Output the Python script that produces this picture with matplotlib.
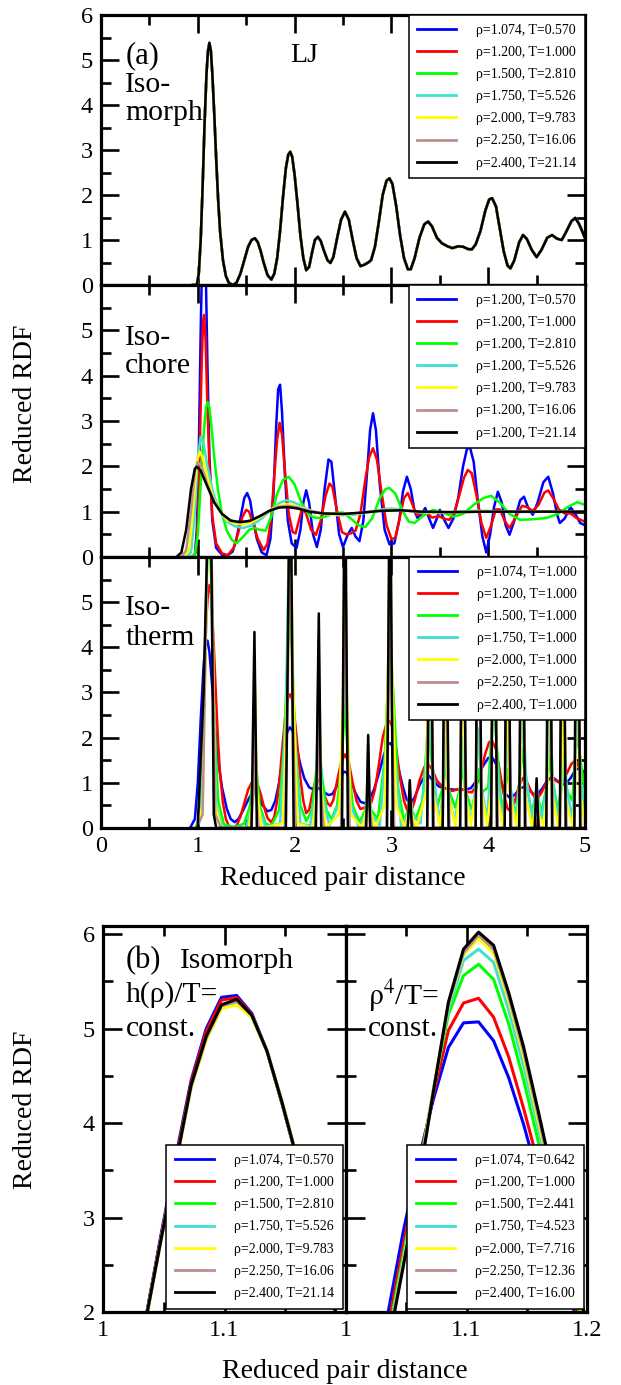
import matplotlib
matplotlib.use('Agg')
import matplotlib.pyplot as plt
from matplotlib.lines import Line2D
from matplotlib.ticker import MultipleLocator, FixedLocator, FixedFormatter

plt.rcParams['font.family'] = ['Liberation Serif', 'DejaVu Serif']
plt.rcParams['mathtext.fontset'] = 'stix'

# ---------------- data ----------------
colors = ['#0000ff', '#ff0000', '#00ff00', '#40e0d0', '#ffff00', '#bc8f8f', '#000000']

labels_isomorph = ['ρ=1.074, T=0.570', 'ρ=1.200, T=1.000', 'ρ=1.500, T=2.810',
                   'ρ=1.750, T=5.526', 'ρ=2.000, T=9.783', 'ρ=2.250, T=16.06',
                   'ρ=2.400, T=21.14']
labels_isochore = ['ρ=1.200, T=0.570', 'ρ=1.200, T=1.000', 'ρ=1.200, T=2.810',
                   'ρ=1.200, T=5.526', 'ρ=1.200, T=9.783', 'ρ=1.200, T=16.06',
                   'ρ=1.200, T=21.14']
labels_isotherm = ['ρ=1.074, T=1.000', 'ρ=1.200, T=1.000', 'ρ=1.500, T=1.000',
                   'ρ=1.750, T=1.000', 'ρ=2.000, T=1.000', 'ρ=2.250, T=1.000',
                   'ρ=2.400, T=1.000']
labels_rho4 = ['ρ=1.074, T=0.642', 'ρ=1.200, T=1.000', 'ρ=1.500, T=2.441',
               'ρ=1.750, T=4.523', 'ρ=2.000, T=7.716', 'ρ=2.250, T=12.36',
               'ρ=2.400, T=16.00']

# Isomorph (all seven state points collapse onto one curve)
r_isomorph = [0.95, 0.99, 1.01, 1.03, 1.05, 1.07, 1.09, 1.105, 1.12, 1.135, 1.15, 1.17, 1.19, 1.21,
              1.23, 1.26, 1.29, 1.32, 1.36, 1.40, 1.44, 1.48, 1.52, 1.555, 1.59, 1.62, 1.65, 1.68,
              1.72, 1.76, 1.79, 1.82, 1.85, 1.88, 1.91, 1.935, 1.955, 1.975, 2.00, 2.03, 2.06, 2.09,
              2.12, 2.15, 2.18, 2.21, 2.24, 2.27, 2.30, 2.34, 2.37, 2.40, 2.44, 2.48, 2.52, 2.56,
              2.60, 2.64, 2.68, 2.72, 2.76, 2.79, 2.83, 2.87, 2.91, 2.95, 2.98, 3.01, 3.05, 3.09,
              3.13, 3.17, 3.20, 3.24, 3.29, 3.34, 3.38, 3.42, 3.47, 3.52, 3.58, 3.63, 3.69, 3.74,
              3.79, 3.83, 3.87, 3.92, 3.97, 4.01, 4.04, 4.08, 4.12, 4.16, 4.20, 4.23, 4.27, 4.32,
              4.36, 4.40, 4.45, 4.50, 4.55, 4.61, 4.66, 4.71, 4.76, 4.81, 4.86, 4.90, 4.94, 4.97,
              5.00]
g_isomorph = [0.0, 0.0, 0.25, 1.0, 2.2, 3.6, 4.7, 5.2, 5.38, 5.2, 4.7, 3.8, 2.8, 1.9,
              1.2, 0.55, 0.2, 0.05, 0.0, 0.05, 0.25, 0.55, 0.85, 1.0, 1.04, 0.95, 0.75, 0.5,
              0.22, 0.12, 0.25, 0.6, 1.2, 1.95, 2.6, 2.9, 2.96, 2.85, 2.45, 1.8, 1.1, 0.6,
              0.33, 0.4, 0.72, 1.0, 1.07, 0.98, 0.78, 0.55, 0.49, 0.62, 1.05, 1.45, 1.63, 1.45,
              1.0, 0.6, 0.42, 0.45, 0.5, 0.55, 0.85, 1.4, 2.0, 2.32, 2.37, 2.25, 1.75, 1.1,
              0.6, 0.35, 0.35, 0.6, 1.05, 1.35, 1.41, 1.3, 1.05, 0.93, 0.86, 0.82, 0.86, 0.85,
              0.8, 0.79, 0.9, 1.2, 1.65, 1.9, 1.93, 1.75, 1.25, 0.75, 0.43, 0.37, 0.55, 0.95,
              1.11, 1.02, 0.78, 0.62, 0.78, 1.05, 1.11, 1.03, 1.0, 1.2, 1.42, 1.49, 1.35, 1.2,
              1.04]

# Isochore rho = 1.2
r_ich_blue = [0.93, 0.97, 0.99, 1.01, 1.03, 1.05, 1.065, 1.08, 1.10, 1.12, 1.15, 1.19, 1.25, 1.31,
              1.36, 1.40, 1.44, 1.48, 1.51, 1.54, 1.57, 1.61, 1.66, 1.71, 1.75, 1.78, 1.81, 1.83,
              1.85, 1.87, 1.90, 1.93, 1.97, 2.02, 2.06, 2.09, 2.12, 2.15, 2.19, 2.23, 2.27, 2.31,
              2.35, 2.38, 2.42, 2.46, 2.50, 2.55, 2.59, 2.63, 2.67, 2.71, 2.75, 2.78, 2.81, 2.84,
              2.88, 2.93, 2.98, 3.03, 3.08, 3.12, 3.16, 3.20, 3.24, 3.27, 3.31, 3.35, 3.39, 3.43,
              3.47, 3.50, 3.55, 3.59, 3.64, 3.69, 3.74, 3.78, 3.81, 3.85, 3.89, 3.94, 3.98, 4.02,
              4.06, 4.10, 4.14, 4.18, 4.22, 4.27, 4.33, 4.37, 4.41, 4.46, 4.51, 4.57, 4.62, 4.67,
              4.71, 4.74, 4.79, 4.85, 4.90, 4.95, 5.00]
g_ich_blue = [0.0, 0.05, 0.6, 2.3, 5.0, 7.2, 7.5, 6.6, 4.2, 2.2, 0.8, 0.2, 0.05, 0.04,
              0.12, 0.4, 0.85, 1.3, 1.41, 1.25, 0.85, 0.4, 0.1, 0.04, 0.4, 1.3, 2.9, 3.7,
              3.8, 3.2, 1.8, 0.8, 0.3, 0.2, 0.6, 1.2, 1.47, 1.2, 0.5, 0.22, 0.6, 1.5,
              2.15, 2.1, 1.3, 0.5, 0.22, 0.5, 0.64, 0.45, 0.35, 0.8, 1.9, 2.8, 3.17, 2.8,
              1.6, 0.6, 0.28, 0.3, 0.8, 1.45, 1.77, 1.5, 1.0, 0.86, 0.95, 1.08, 0.85, 0.64,
              0.85, 1.04, 0.8, 0.64, 0.85, 1.3, 2.0, 2.38, 2.43, 2.1, 1.3, 0.45, 0.1, 0.5,
              1.1, 1.44, 1.2, 0.7, 0.49, 0.8, 1.25, 1.33, 1.1, 0.93, 1.2, 1.65, 1.77, 1.4,
              0.95, 0.75, 0.85, 1.1, 0.95, 0.75, 0.7]

r_ich_red = [0.95, 0.98, 1.00, 1.02, 1.04, 1.055, 1.065, 1.08, 1.10, 1.12, 1.15, 1.19, 1.25, 1.31,
             1.37, 1.42, 1.46, 1.50, 1.53, 1.57, 1.62, 1.68, 1.72, 1.76, 1.79, 1.82, 1.845, 1.87,
             1.90, 1.94, 1.98, 2.01, 2.05, 2.08, 2.12, 2.17, 2.22, 2.27, 2.32, 2.36, 2.39, 2.44,
             2.49, 2.53, 2.58, 2.63, 2.68, 2.73, 2.77, 2.81, 2.85, 2.90, 2.95, 3.00, 3.04, 3.09,
             3.13, 3.17, 3.21, 3.26, 3.31, 3.36, 3.42, 3.49, 3.55, 3.60, 3.65, 3.70, 3.75, 3.79,
             3.83, 3.88, 3.93, 3.98, 4.03, 4.08, 4.12, 4.17, 4.22, 4.29, 4.35, 4.40, 4.46, 4.52,
             4.58, 4.62, 4.67, 4.73, 4.79, 4.85, 4.92, 5.00]
g_ich_red = [0.0, 0.1, 0.8, 2.4, 4.3, 5.2, 5.34, 4.8, 3.3, 2.0, 0.9, 0.3, 0.08, 0.04,
             0.2, 0.55, 0.88, 1.04, 1.0, 0.75, 0.4, 0.15, 0.3, 0.9, 1.8, 2.6, 2.96, 2.7,
             1.9, 0.95, 0.55, 0.52, 0.85, 1.1, 0.95, 0.6, 0.49, 0.8, 1.35, 1.62, 1.55, 1.0,
             0.55, 0.5, 0.52, 0.58, 0.95, 1.7, 2.2, 2.4, 2.15, 1.4, 0.7, 0.4, 0.42, 0.9,
             1.3, 1.41, 1.2, 0.93, 0.96, 0.98, 0.87, 0.9, 0.84, 0.82, 0.98, 1.35, 1.75, 1.92,
             1.85, 1.35, 0.75, 0.42, 0.7, 1.05, 1.05, 0.8, 0.64, 0.9, 1.13, 1.1, 1.02, 1.15,
             1.42, 1.47, 1.3, 1.05, 0.96, 0.96, 0.85, 0.78]

r_ich_green = [0.92, 0.97, 1.00, 1.03, 1.06, 1.085, 1.10, 1.12, 1.14, 1.17, 1.21, 1.25, 1.30, 1.35,
               1.40, 1.47, 1.53, 1.59, 1.64, 1.70, 1.76, 1.82, 1.88, 1.94, 2.00, 2.07, 2.14, 2.20,
               2.26, 2.33, 2.42, 2.50, 2.58, 2.66, 2.73, 2.80, 2.88, 2.94, 2.98, 3.04, 3.12, 3.18,
               3.24, 3.32, 3.43, 3.53, 3.64, 3.74, 3.85, 3.95, 4.03, 4.12, 4.22, 4.33, 4.45, 4.60,
               4.72, 4.82, 4.92, 5.00]
g_ich_green = [0.0, 0.05, 0.5, 1.6, 2.7, 3.3, 3.42, 3.3, 2.9, 2.2, 1.45, 0.95, 0.58, 0.38,
               0.3, 0.45, 0.6, 0.64, 0.6, 0.58, 0.9, 1.4, 1.7, 1.77, 1.6, 1.2, 0.95, 0.87,
               0.86, 0.9, 0.97, 0.98, 0.85, 0.7, 0.66, 0.85, 1.3, 1.5, 1.52, 1.4, 1.0, 0.78,
               0.75, 0.9, 1.04, 0.98, 0.89, 0.95, 1.15, 1.3, 1.35, 1.2, 0.95, 0.82, 0.83, 0.86,
               0.95, 1.1, 1.21, 1.15]

r_ich_cyan = [0.88, 0.93, 0.97, 1.00, 1.03, 1.06, 1.10, 1.16, 1.22, 1.30, 1.38, 1.47, 1.56, 1.66,
              1.76, 1.85, 1.92, 2.00, 2.10, 2.20, 2.30, 2.45, 2.60, 2.75, 2.90, 3.00, 3.15, 3.30,
              3.50, 3.70, 3.90, 4.10, 4.30, 4.60, 5.00]
g_ich_cyan = [0.0, 0.1, 1.0, 2.2, 2.65, 2.5, 2.0, 1.4, 1.05, 0.78, 0.68, 0.64, 0.7, 0.85,
              1.05, 1.2, 1.25, 1.2, 1.08, 1.0, 0.95, 0.92, 0.93, 0.98, 1.05, 1.07, 1.03, 0.98,
              0.97, 1.0, 1.02, 1.01, 0.99, 1.0, 1.0]

r_ich_yellow = [0.86, 0.91, 0.95, 0.99, 1.02, 1.05, 1.10, 1.16, 1.23, 1.30, 1.38, 1.46, 1.56, 1.66,
                1.76, 1.86, 1.93, 2.02, 2.12, 2.25, 2.40, 2.60, 2.80, 3.00, 3.20, 3.40, 3.70, 4.00,
                4.40, 5.00]
g_ich_yellow = [0.0, 0.15, 1.0, 2.1, 2.32, 2.2, 1.75, 1.3, 1.0, 0.82, 0.74, 0.72, 0.77, 0.9,
                1.05, 1.15, 1.17, 1.12, 1.05, 0.97, 0.93, 0.95, 1.0, 1.04, 1.02, 0.98, 0.99, 1.01,
                1.0, 1.0]

r_ich_brown = [0.83, 0.88, 0.93, 0.97, 1.00, 1.04, 1.10, 1.17, 1.25, 1.33, 1.42, 1.52, 1.62, 1.72,
               1.82, 1.92, 2.02, 2.15, 2.30, 2.50, 2.70, 2.90, 3.10, 3.30, 3.60, 4.00, 5.00]
g_ich_brown = [0.0, 0.15, 1.0, 1.9, 2.1, 2.0, 1.6, 1.22, 0.96, 0.82, 0.76, 0.78, 0.88, 1.0,
               1.1, 1.13, 1.1, 1.02, 0.96, 0.95, 0.98, 1.02, 1.03, 1.0, 0.99, 1.0, 1.0]

r_ich_black = [0.78, 0.83, 0.88, 0.93, 0.97, 0.99, 1.03, 1.10, 1.17, 1.25, 1.34, 1.44, 1.54, 1.64,
               1.74, 1.84, 1.93, 2.03, 2.15, 2.30, 2.50, 2.70, 2.90, 3.10, 3.30, 3.60, 4.00, 5.00]
g_ich_black = [0.0, 0.1, 0.6, 1.5, 1.95, 1.99, 1.9, 1.55, 1.2, 0.95, 0.8, 0.77, 0.8, 0.9,
               1.02, 1.09, 1.1, 1.07, 1.0, 0.96, 0.95, 0.98, 1.02, 1.03, 1.0, 0.99, 1.0, 1.0]

# Isotherm T = 1.0
r_ith_blue = [0.92, 0.97, 1.00, 1.03, 1.06, 1.08, 1.10, 1.12, 1.15, 1.18, 1.21, 1.25, 1.30, 1.34,
              1.38, 1.42, 1.47, 1.52, 1.56, 1.59, 1.62, 1.67, 1.72, 1.76, 1.80, 1.84, 1.88, 1.92,
              1.95, 1.98, 2.02, 2.06, 2.10, 2.15, 2.20, 2.25, 2.30, 2.35, 2.39, 2.43, 2.47, 2.51,
              2.54, 2.58, 2.63, 2.68, 2.72, 2.77, 2.82, 2.87, 2.92, 2.96, 2.99, 3.03, 3.07, 3.12,
              3.16, 3.20, 3.24, 3.29, 3.34, 3.38, 3.43, 3.49, 3.56, 3.65, 3.75, 3.82, 3.88, 3.94,
              4.00, 4.04, 4.08, 4.13, 4.18, 4.23, 4.28, 4.33, 4.37, 4.42, 4.47, 4.51, 4.56, 4.61,
              4.66, 4.71, 4.76, 4.80, 4.85, 4.90, 4.94, 4.97, 5.00]
g_ith_blue = [0.0, 0.2, 1.0, 2.4, 3.6, 4.1, 4.15, 3.9, 3.1, 2.2, 1.5, 0.9, 0.42, 0.2,
              0.13, 0.2, 0.4, 0.62, 0.78, 0.8, 0.72, 0.5, 0.37, 0.4, 0.6, 1.0, 1.6, 2.1,
              2.23, 2.15, 1.8, 1.4, 1.1, 0.9, 0.85, 0.88, 0.8, 0.73, 0.75, 0.9, 1.1, 1.25,
              1.22, 1.05, 0.77, 0.58, 0.55, 0.63, 0.85, 1.2, 1.6, 1.85, 1.88, 1.72, 1.35, 0.9,
              0.62, 0.55, 0.68, 0.95, 1.13, 1.17, 1.05, 0.92, 0.87, 0.85, 0.85, 0.88, 1.05, 1.35,
              1.55, 1.57, 1.42, 1.05, 0.75, 0.66, 0.75, 0.88, 0.91, 0.84, 0.75, 0.74, 0.88, 1.05,
              1.13, 1.05, 0.96, 0.98, 1.1, 1.28, 1.33, 1.28, 1.2]

r_ith_green = [0.98, 1.02, 1.06, 1.09, 1.115, 1.14, 1.17, 1.21, 1.27, 1.38, 1.48, 1.54, 1.57, 1.59,
               1.61, 1.64, 1.70, 1.76, 1.84, 1.89, 1.93, 1.95, 1.97, 2.01, 2.06, 2.12, 2.18, 2.22,
               2.25, 2.28, 2.33, 2.38, 2.44, 2.49, 2.52, 2.55, 2.60, 2.67, 2.73, 2.76, 2.79, 2.86,
               2.93, 2.97, 2.99, 3.02, 3.07, 3.13, 3.19, 3.25, 3.32, 3.36, 3.38, 3.41, 3.47, 3.53,
               3.56, 3.60, 3.66, 3.71, 3.73, 3.77, 3.83, 3.88, 3.90, 3.94, 4.00, 4.04, 4.06, 4.09,
               4.14, 4.18, 4.20, 4.24, 4.29, 4.33, 4.36, 4.39, 4.45, 4.50, 4.55, 4.61, 4.64, 4.67,
               4.72, 4.76, 4.78, 4.82, 4.87, 4.90, 4.92, 4.96, 5.00]
g_ith_green = [0.0, 0.3, 2.5, 5.5, 6.8, 5.5, 2.5, 0.6, 0.08, 0.02, 0.1, 0.5, 1.2, 1.73,
               1.2, 0.5, 0.1, 0.05, 0.4, 1.8, 4.0, 4.82, 4.0, 1.8, 0.5, 0.15, 0.4, 1.2,
               1.83, 1.2, 0.4, 0.2, 0.5, 1.6, 2.76, 1.6, 0.5, 0.13, 0.4, 0.8, 0.4, 0.2,
               1.5, 3.5, 4.0, 3.0, 0.9, 0.15, 0.5, 0.2, 0.6, 1.7, 2.25, 1.6, 0.45, 0.9,
               1.33, 0.8, 0.45, 0.9, 1.3, 0.8, 0.4, 0.9, 1.3, 0.8, 0.9, 2.3, 2.6, 1.8,
               0.35, 0.9, 1.3, 0.6, 0.35, 1.2, 1.75, 1.0, 0.35, 0.8, 0.35, 1.0, 1.6, 1.0,
               0.4, 0.9, 1.3, 0.8, 0.6, 1.6, 2.1, 1.4, 0.8]

r_ith_cyan = [0.99, 1.04, 1.08, 1.115, 1.15, 1.19, 1.25, 1.50, 1.56, 1.59, 1.62, 1.70, 1.85, 1.91,
              1.95, 1.99, 2.06, 2.16, 2.22, 2.25, 2.28, 2.36, 2.47, 2.52, 2.57, 2.66, 2.73, 2.76,
              2.79, 2.88, 2.95, 2.985, 3.02, 3.10, 3.17, 3.19, 3.22, 3.30, 3.36, 3.39, 3.42, 3.49,
              3.54, 3.56, 3.59, 3.65, 3.71, 3.73, 3.76, 3.82, 3.87, 3.90, 3.93, 3.99, 4.03, 4.06,
              4.09, 4.14, 4.18, 4.20, 4.23, 4.29, 4.33, 4.36, 4.39, 4.45, 4.50, 4.55, 4.61, 4.64,
              4.67, 4.72, 4.76, 4.78, 4.81, 4.87, 4.90, 4.92, 4.95, 5.00]
g_ith_cyan = [0.0, 0.5, 4.0, 8.5, 4.0, 0.5, 0.02, 0.02, 0.5, 2.4, 0.5, 0.02, 0.1, 2.5,
              7.5, 2.5, 0.1, 0.05, 0.8, 3.0, 0.8, 0.05, 0.6, 3.8, 0.6, 0.03, 0.3, 1.2,
              0.3, 0.05, 2.0, 5.55, 2.0, 0.05, 0.3, 0.8, 0.3, 0.1, 1.5, 3.3, 1.5, 0.15,
              0.8, 2.0, 0.8, 0.15, 0.8, 2.0, 0.8, 0.15, 0.9, 2.2, 0.9, 0.2, 1.5, 3.5,
              1.5, 0.15, 0.9, 2.2, 0.9, 0.2, 1.2, 2.6, 1.2, 0.2, 0.9, 0.2, 1.0, 2.4,
              1.0, 0.2, 0.9, 2.0, 0.9, 0.2, 1.2, 2.8, 1.2, 0.3]

r_ith_yellow = [0.99, 1.05, 1.10, 1.12, 1.145, 1.18, 1.24, 1.53, 1.57, 1.59, 1.61, 1.66, 1.88, 1.93,
                1.955, 1.98, 2.03, 2.19, 2.23, 2.25, 2.27, 2.32, 2.46, 2.50, 2.52, 2.54, 2.58, 2.70,
                2.74, 2.76, 2.78, 2.83, 2.93, 2.97, 2.985, 3.00, 3.05, 3.14, 3.17, 3.19, 3.21, 3.26,
                3.36, 3.395, 3.43, 3.50, 3.54, 3.56, 3.58, 3.66, 3.71, 3.735, 3.76, 3.82, 3.87, 3.90,
                3.93, 3.99, 4.03, 4.06, 4.09, 4.15, 4.18, 4.20, 4.22, 4.29, 4.33, 4.355, 4.38, 4.45,
                4.48, 4.50, 4.52, 4.57, 4.61, 4.635, 4.66, 4.72, 4.75, 4.775, 4.80, 4.87, 4.90, 4.925,
                4.95, 5.00]
g_ith_yellow = [0.0, 0.5, 6.0, 9.0, 6.0, 0.5, 0.0, 0.0, 0.8, 3.2, 0.8, 0.0, 0.1, 3.5,
                9.0, 3.5, 0.1, 0.0, 1.0, 3.7, 1.0, 0.0, 0.3, 3.0, 7.0, 3.0, 0.3, 0.0,
                0.4, 1.5, 0.4, 0.0, 0.5, 4.0, 8.0, 4.0, 0.5, 0.0, 0.3, 0.9, 0.3, 0.0,
                0.8, 6.0, 0.8, 0.05, 0.8, 5.0, 0.8, 0.05, 0.8, 5.0, 0.8, 0.05, 0.8, 5.0,
                0.8, 0.05, 0.8, 7.0, 0.8, 0.05, 0.8, 5.0, 0.8, 0.05, 0.8, 5.5, 0.8, 0.05,
                0.3, 0.95, 0.3, 0.05, 0.8, 5.0, 0.8, 0.05, 0.6, 3.0, 0.6, 0.05, 0.8, 6.0,
                0.8, 0.05]

r_ith_brown = [0.99, 1.05, 1.10, 1.12, 1.15, 1.18, 1.24, 1.55, 1.575, 1.585, 1.60, 1.63, 1.90, 1.93,
               1.955, 1.975, 2.01, 2.21, 2.235, 2.248, 2.265, 2.30, 2.48, 2.505, 2.52, 2.535, 2.57, 2.73,
               2.748, 2.76, 2.775, 2.80, 2.95, 2.97, 2.985, 3.00, 3.03, 3.16, 3.18, 3.19, 3.20, 3.23,
               3.37, 3.39, 3.40, 3.415, 3.44, 3.53, 3.55, 3.56, 3.575, 3.60, 3.71, 3.725, 3.74, 3.755,
               3.78, 3.87, 3.885, 3.90, 3.915, 3.94, 4.03, 4.045, 4.06, 4.075, 4.10, 4.17, 4.185, 4.20,
               4.215, 4.24, 4.32, 4.335, 4.35, 4.365, 4.39, 4.48, 4.49, 4.50, 4.51, 4.53, 4.60, 4.615,
               4.63, 4.645, 4.67, 4.74, 4.755, 4.77, 4.785, 4.81, 4.89, 4.905, 4.92, 4.935, 4.96, 5.00]
g_ith_brown = [0.0, 0.3, 6.5, 9.5, 5.0, 0.3, 0.0, 0.0, 0.8, 3.9, 0.8, 0.0, 0.0, 3.0,
               9.0, 3.0, 0.0, 0.0, 1.0, 4.2, 1.0, 0.0, 0.0, 3.0, 8.0, 3.0, 0.0, 0.0,
               0.5, 1.85, 0.5, 0.0, 0.0, 3.0, 8.0, 3.0, 0.0, 0.0, 0.3, 1.0, 0.3, 0.0,
               0.0, 3.0, 8.0, 3.0, 0.0, 0.0, 3.0, 8.0, 3.0, 0.0, 0.0, 3.0, 8.0, 3.0,
               0.0, 0.0, 3.0, 8.0, 3.0, 0.0, 0.0, 3.0, 8.0, 3.0, 0.0, 0.0, 3.0, 8.0,
               3.0, 0.0, 0.0, 3.0, 8.0, 3.0, 0.0, 0.0, 0.3, 1.0, 0.3, 0.0, 0.0, 3.0,
               8.0, 3.0, 0.0, 0.0, 3.0, 8.0, 3.0, 0.0, 0.0, 3.0, 8.0, 3.0, 0.0, 0.0]

r_ith_black = [0.99, 1.00, 1.06, 1.10, 1.125, 1.145, 1.165, 1.19, 1.555, 1.585, 1.61, 1.91, 1.955, 1.99,
               2.22, 2.25, 2.275, 2.49, 2.52, 2.55, 2.74, 2.76, 2.78, 2.955, 2.985, 3.015, 3.17, 3.19,
               3.21, 3.37, 3.40, 3.43, 3.53, 3.56, 3.59, 3.71, 3.74, 3.77, 3.87, 3.90, 3.93, 4.03,
               4.06, 4.09, 4.17, 4.20, 4.23, 4.32, 4.35, 4.38, 4.48, 4.50, 4.52, 4.60, 4.63, 4.66,
               4.74, 4.77, 4.80, 4.89, 4.92, 4.95, 5.00]
g_ith_black = [0.0, 0.05, 3.0, 6.5, 9.0, 5.0, 0.3, 0.0, 0.0, 4.34, 0.0, 0.0, 9.0, 0.0,
               0.0, 4.75, 0.0, 0.0, 9.0, 0.0, 0.0, 2.06, 0.0, 0.0, 9.0, 0.0, 0.0, 1.06,
               0.0, 0.0, 9.0, 0.0, 0.0, 9.0, 0.0, 0.0, 9.0, 0.0, 0.0, 9.0, 0.0, 0.0,
               9.0, 0.0, 0.0, 9.0, 0.0, 0.0, 9.0, 0.0, 0.0, 1.1, 0.0, 0.0, 9.0, 0.0,
               0.0, 9.0, 0.0, 0.0, 9.0, 0.0, 0.0]

# Panel (b): first-peak zoom
r_peak = [1.01, 1.0225, 1.035, 1.0475, 1.06, 1.0725, 1.085, 1.0975, 1.11, 1.1225, 1.135,
          1.1475, 1.16, 1.1725, 1.185, 1.1975, 1.21]
g_peak_isomorph = [
    [0.75, 1.30, 1.92, 2.80, 3.65, 4.45, 5.00, 5.33, 5.35, 5.16, 4.76, 4.20, 3.60, 2.95, 2.30, 1.70, 1.20],
    [0.75, 1.30, 1.92, 2.78, 3.62, 4.43, 4.97, 5.30, 5.33, 5.15, 4.76, 4.20, 3.60, 2.95, 2.30, 1.70, 1.20],
    [0.72, 1.27, 1.90, 2.75, 3.58, 4.38, 4.90, 5.22, 5.26, 5.12, 4.76, 4.22, 3.62, 2.97, 2.32, 1.72, 1.22],
    [0.72, 1.27, 1.90, 2.75, 3.58, 4.38, 4.90, 5.24, 5.28, 5.13, 4.76, 4.21, 3.61, 2.96, 2.31, 1.71, 1.21],
    [0.72, 1.27, 1.89, 2.74, 3.57, 4.37, 4.88, 5.21, 5.25, 5.12, 4.76, 4.22, 3.62, 2.97, 2.32, 1.72, 1.22],
    [0.73, 1.28, 1.90, 2.75, 3.58, 4.39, 4.90, 5.24, 5.29, 5.14, 4.76, 4.21, 3.61, 2.96, 2.31, 1.71, 1.21],
    [0.73, 1.28, 1.90, 2.75, 3.58, 4.40, 4.92, 5.25, 5.31, 5.14, 4.76, 4.21, 3.61, 2.96, 2.31, 1.71, 1.21],
]
g_peak_rho4 = [
    [0.85, 1.38, 2.00, 2.85, 3.60, 4.25, 4.80, 5.06, 5.07, 4.87, 4.48, 3.98, 3.40, 2.80, 2.20, 1.65, 1.10],
    [0.75, 1.25, 1.85, 2.70, 3.52, 4.30, 4.98, 5.27, 5.32, 5.12, 4.70, 4.15, 3.55, 2.90, 2.30, 1.70, 1.15],
    [0.65, 1.15, 1.75, 2.60, 3.45, 4.35, 5.15, 5.56, 5.68, 5.52, 5.05, 4.45, 3.78, 3.08, 2.42, 1.80, 1.20],
    [0.60, 1.10, 1.70, 2.55, 3.40, 4.35, 5.20, 5.72, 5.84, 5.70, 5.20, 4.60, 3.92, 3.20, 2.52, 1.88, 1.25],
    [0.58, 1.08, 1.68, 2.52, 3.38, 4.35, 5.25, 5.78, 5.95, 5.80, 5.30, 4.70, 4.00, 3.28, 2.58, 1.93, 1.30],
    [0.56, 1.06, 1.66, 2.50, 3.36, 4.34, 5.26, 5.80, 5.99, 5.84, 5.34, 4.75, 4.05, 3.32, 2.62, 1.96, 1.32],
    [0.55, 1.05, 1.65, 2.48, 3.35, 4.33, 5.28, 5.84, 6.02, 5.88, 5.38, 4.80, 4.10, 3.38, 2.68, 2.00, 1.35],
]

# ---------------- figure ----------------
W, H = 621, 1385
fig = plt.figure(figsize=(W / 100, H / 100), dpi=100)


def ax_at(x0, y0, x1, y1):
    return fig.add_axes([x0 / W, 1 - y1 / H, (x1 - x0) / W, (y1 - y0) / H])


ax1 = ax_at(101, 15, 585, 285)
ax2 = ax_at(101, 285, 585, 557)
ax3 = ax_at(101, 557, 585, 828)
axL = ax_at(103, 926, 346, 1312)
axR = ax_at(346, 926, 587, 1312)

TICK_FS = 17.5
LW_A = 1.8
LW_B = 2.2
TXT = 21.3


def style_axes(ax, major_len=13, minor_len=7):
    for s in ax.spines.values():
        s.set_linewidth(2.3)
    ax.tick_params(which='both', direction='in', top=True, right=True, width=1.9,
                   labelsize=TICK_FS, pad=6)
    ax.tick_params(which='major', length=major_len)
    ax.tick_params(which='minor', length=minor_len)


# Panel (a) curves
for c in colors:
    ax1.plot(r_isomorph, g_isomorph, color=c, lw=LW_A)

ich = [(r_ich_blue, g_ich_blue), (r_ich_red, g_ich_red), (r_ich_green, g_ich_green),
       (r_ich_cyan, g_ich_cyan), (r_ich_yellow, g_ich_yellow), (r_ich_brown, g_ich_brown),
       (r_ich_black, g_ich_black)]
for (rr, gg), c in zip(ich, colors):
    ax2.plot(rr, gg, color=c, lw=LW_A)

ith = [(r_ith_blue, g_ith_blue), (r_isomorph, g_isomorph), (r_ith_green, g_ith_green),
       (r_ith_cyan, g_ith_cyan), (r_ith_yellow, g_ith_yellow), (r_ith_brown, g_ith_brown),
       (r_ith_black, g_ith_black)]
for (rr, gg), c in zip(ith, colors):
    ax3.plot(rr, gg, color=c, lw=LW_A)

for ax in (ax1, ax2, ax3):
    ax.set_xlim(0, 5)
    ax.set_ylim(0, 6)
    style_axes(ax)
    ax.xaxis.set_major_locator(MultipleLocator(1))
    ax.xaxis.set_minor_locator(MultipleLocator(0.5))
    ax.yaxis.set_major_locator(FixedLocator([0, 1, 2, 3, 4, 5, 6]))
    ax.yaxis.set_minor_locator(MultipleLocator(0.5))

ax1.yaxis.set_major_formatter(FixedFormatter(['0', '1', '2', '3', '4', '5', '6']))
ax2.yaxis.set_major_formatter(FixedFormatter(['0', '1', '2', '3', '4', '5', '']))
ax3.yaxis.set_major_formatter(FixedFormatter(['0', '1', '2', '3', '4', '5', '']))
ax1.tick_params(labelbottom=False)
ax2.tick_params(labelbottom=False)
ax3.set_xlabel('Reduced pair distance', fontsize=20, labelpad=6)


def make_legend(ax, labels, loc, pad):
    handles = [Line2D([], [], color=c, lw=2.0) for c in colors]
    leg = ax.legend(handles, labels, loc=loc, bbox_to_anchor=(1, 1) if 'upper' in loc else (1, 0),
                    borderaxespad=pad, fontsize=10, handlelength=2.8, handletextpad=1.45,
                    labelspacing=0.66, borderpad=0.62, frameon=True, fancybox=False,
                    edgecolor='black', framealpha=1)
    leg.get_frame().set_linewidth(1.1)
    return leg


make_legend(ax1, labels_isomorph, 'upper right', 0)
make_legend(ax2, labels_isochore, 'upper right', 0)
make_legend(ax3, labels_isotherm, 'upper right', 0)

ax1.text(0.05, 0.822, '(a)', transform=ax1.transAxes, fontsize=22, va='baseline')
ax1.text(0.39, 0.826, 'LJ', transform=ax1.transAxes, fontsize=20, va='baseline')
ax1.text(0.05, 0.715, 'Iso-', transform=ax1.transAxes, fontsize=TXT, va='baseline')
ax1.text(0.05, 0.612, 'morph', transform=ax1.transAxes, fontsize=TXT, va='baseline')
ax2.text(0.05, 0.779, 'Iso-', transform=ax2.transAxes, fontsize=TXT, va='baseline')
ax2.text(0.05, 0.676, 'chore', transform=ax2.transAxes, fontsize=TXT, va='baseline')
ax3.text(0.05, 0.786, 'Iso-', transform=ax3.transAxes, fontsize=TXT, va='baseline')
ax3.text(0.05, 0.675, 'therm', transform=ax3.transAxes, fontsize=TXT, va='baseline')

fig.text(26 / W, 1 - 404 / H, 'Reduced RDF', rotation=90, fontsize=20, ha='center', va='center')

# Panel (b)
for gg, c in zip(g_peak_isomorph, colors):
    axL.plot(r_peak, gg, color=c, lw=LW_B)
for gg, c in zip(g_peak_rho4, colors):
    axR.plot(r_peak, gg, color=c, lw=LW_B)

for ax in (axL, axR):
    ax.set_xlim(1, 1.2)
    ax.set_ylim(2, 6.085)
    style_axes(ax, major_len=14, minor_len=7)
    ax.xaxis.set_major_locator(FixedLocator([1.0, 1.1, 1.2]))
    ax.xaxis.set_minor_locator(MultipleLocator(0.05))
    ax.yaxis.set_major_locator(FixedLocator([2, 3, 4, 5, 6]))
    ax.yaxis.set_minor_locator(MultipleLocator(0.5))

axL.xaxis.set_major_formatter(FixedFormatter(['1', '1.1', '']))
axR.xaxis.set_major_formatter(FixedFormatter(['1', '1.1', '1.2']))
axL.yaxis.set_major_formatter(FixedFormatter(['2', '3', '4', '5', '6']))
axR.tick_params(labelleft=False)

make_legend(axL, labels_isomorph, 'lower right', 0.25)
make_legend(axR, labels_rho4, 'lower right', 0.25)

axL.text(0.095, 0.891, '(b)', transform=axL.transAxes, fontsize=22, va='baseline')
axL.text(0.317, 0.891, 'Isomorph', transform=axL.transAxes, fontsize=TXT, va='baseline')
axL.text(0.095, 0.803, 'h(ρ)/T=', transform=axL.transAxes, fontsize=TXT, va='baseline')
axL.text(0.095, 0.715, 'const.', transform=axL.transAxes, fontsize=TXT, va='baseline')
axR.text(0.09, 0.795, r'$\mathrm{\rho}^{4}$/T=', transform=axR.transAxes, fontsize=TXT, va='baseline')
axR.text(0.09, 0.716, 'const.', transform=axR.transAxes, fontsize=TXT, va='baseline')

fig.text(26 / W, 1 - 1110 / H, 'Reduced RDF', rotation=90, fontsize=20, ha='center', va='center')
fig.text(345 / W, 1 - 1372 / H, 'Reduced pair distance', fontsize=20, ha='center', va='center')

fig.savefig('out.png', dpi=100)
